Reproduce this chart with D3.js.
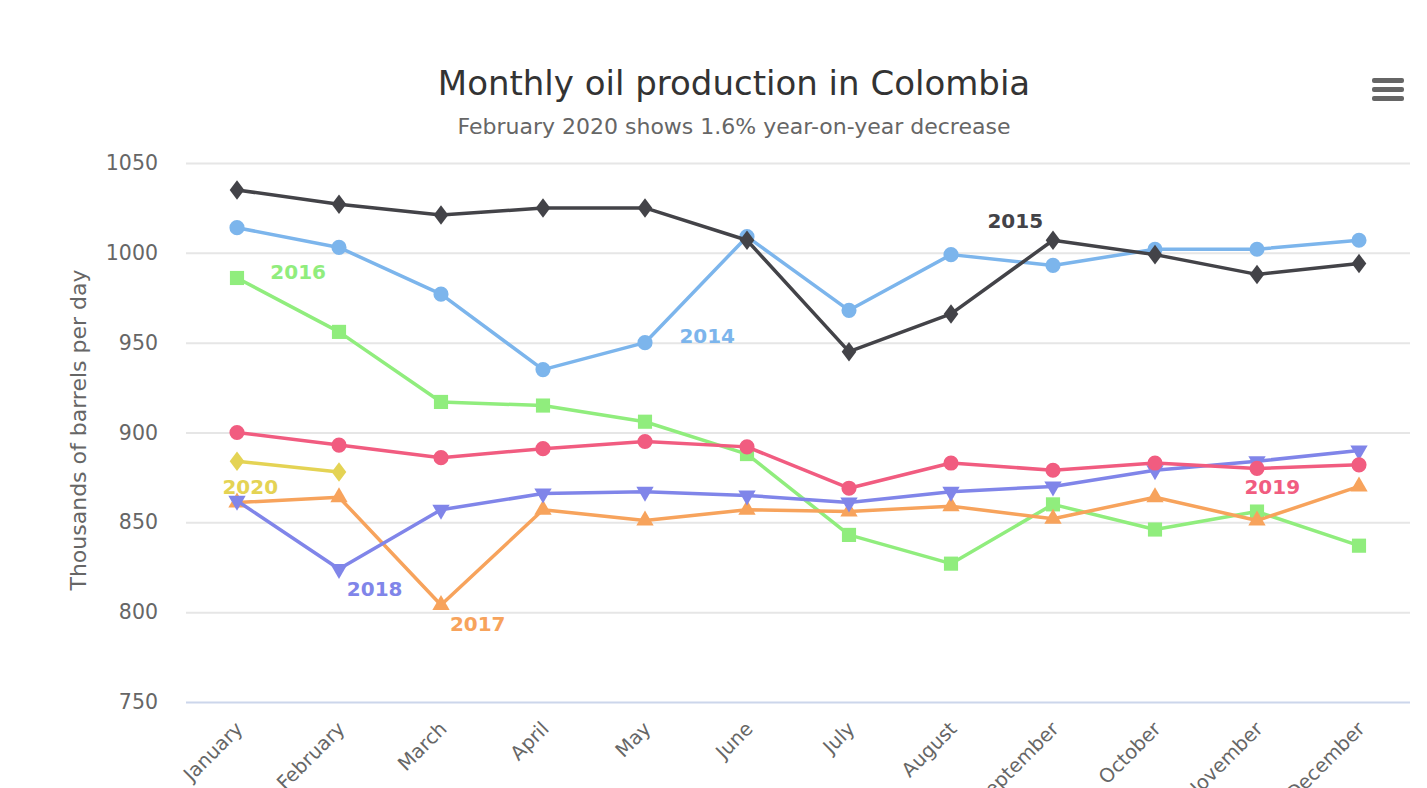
<!DOCTYPE html>
<html>
<head>
<meta charset="utf-8">
<script src="https://cdn.jsdelivr.net/npm/d3@7"></script>
<style>
  html, body { margin: 0; padding: 0; background: #ffffff; }
  svg { display: block; font-family: "DejaVu Sans", sans-serif; }
</style>
</head>
<body>
<svg id="chart" width="1427" height="788"></svg>
<script>
// ---- Data ----
const months = ["January","February","March","April","May","June","July","August","September","October","November","December"];
const yTicks = [750, 800, 850, 900, 950, 1000, 1050];

const y2014 = [1014, 1003, 977, 935, 950, 1009, 968, 999, 993, 1002, 1002, 1007];
const y2015 = [1035, 1027, 1021, 1025, 1025, 1007, 945, 966, 1007, 999, 988, 994];
const y2016 = [986, 956, 917, 915, 906, 888, 843, 827, 860, 846, 856, 837];
const y2017 = [861, 864, 804, 857, 851, 857, 856, 859, 852, 864, 851, 870];
const y2018 = [862, 824, 857, 866, 867, 865, 861, 867, 870, 879, 884, 890];
const y2019 = [900, 893, 886, 891, 895, 892, 869, 883, 879, 883, 880, 882];
const y2020 = [884, 878];

const seriesNames = ["2014","2015","2016","2017","2018","2019","2020"];
const seriesValues = [y2014, y2015, y2016, y2017, y2018, y2019, y2020];
const seriesColors = ["#7cb5ec","#434348","#90ed7d","#f7a35c","#8085e9","#f15c80","#e4d354"];
const seriesSymbols = ["circle","diamond","square","triangle","triangle-down","circle","diamond"];
// series label anchor: [fractional month index, value]
const labelAnchors = [[4.61, 954], [7.63, 1017.7], [0.60, 989.3], [2.36, 793.3], [1.35, 812.8], [10.15, 869.6], [0.13, 869.6]];

const titleText = "Monthly oil production in Colombia";
const subtitleText = "February 2020 shows 1.6% year-on-year decrease";
const yTitle = "Thousands of barrels per day";

// ---- Layout ----
const svg = d3.select("#chart");
const margin = {left: 186, right: 17};
const W = 1427, H = 788;

const x = d3.scaleBand().domain(months).range([margin.left, W - margin.right]);
const xc = i => x(months[0]) + x.bandwidth() * (i + 0.5);
const y = d3.scaleLinear().domain([750, 1050]).range([702, 163]);

// Title & subtitle
svg.append("text").attr("x", 734).attr("y", 95).attr("text-anchor", "middle")
  .attr("fill", "#333333").style("font-size", "34px").text(titleText);
svg.append("text").attr("x", 734).attr("y", 134).attr("text-anchor", "middle")
  .attr("fill", "#666666").style("font-size", "22px").text(subtitleText);

// Menu icon
const menu = svg.append("g").attr("transform", "translate(1372,78)");
[0, 9, 18].forEach(dy => menu.append("rect").attr("x", 0).attr("y", dy).attr("width", 32).attr("height", 5).attr("rx", 2).attr("fill", "#666666"));

// Gridlines
const yAxis = d3.axisLeft(y).tickValues(yTicks).tickSize(-(W - margin.left - margin.right)).tickPadding(28).tickFormat(d3.format("d"));
const gy = svg.append("g").attr("transform", `translate(${margin.left},0)`).call(yAxis);
gy.select(".domain").remove();
gy.selectAll(".tick line").attr("stroke", "#e6e6e6").attr("stroke-width", 2);
gy.selectAll(".tick text").attr("fill", "#666666").style("font-size", "20.5px").style("font-family", "DejaVu Sans, sans-serif");
gy.selectAll(".tick").filter(d => d === 750).select("line").attr("stroke", "#ccd6eb");

// X axis labels
const xAxis = d3.axisBottom(x).tickSize(0).tickPadding(0);
const gx = svg.append("g").attr("transform", `translate(0,702)`).call(xAxis);
gx.select(".domain").remove();
gx.selectAll(".tick text")
  .attr("fill", "#666666").style("font-size", "19.5px").style("font-family", "DejaVu Sans, sans-serif")
  .attr("text-anchor", "end").attr("dy", null).attr("y", 0)
  .attr("transform", "translate(7,28) rotate(-45)");

// Y axis title
svg.append("text").attr("transform", "translate(86,430) rotate(-90)").attr("text-anchor", "middle")
  .attr("fill", "#666666").style("font-size", "22px").text(yTitle);

// Series
const line = d3.line().x((d, i) => xc(i)).y(d => y(d));
const symMap = {
  "circle": d3.symbolCircle, "diamond": d3.symbolDiamond, "square": d3.symbolSquare,
  "triangle": d3.symbolTriangle, "triangle-down": d3.symbolTriangle
};
const symSize = {"circle": 180, "diamond": 110, "square": 200, "triangle": 130, "triangle-down": 130};

seriesNames.forEach((name, si) => {
  const vals = seriesValues[si];
  const g = svg.append("g");
  g.append("path").datum(vals).attr("d", line).attr("fill", "none")
    .attr("stroke", seriesColors[si]).attr("stroke-width", 3.5).attr("stroke-linejoin", "round").attr("stroke-linecap", "round");
  const sym = seriesSymbols[si];
  g.selectAll("path.m").data(vals).join("path").attr("class", "m")
    .attr("d", d3.symbol().type(symMap[sym]).size(symSize[sym]))
    .attr("transform", (d, i) => `translate(${xc(i)},${y(d)})` + (sym === "triangle-down" ? " rotate(180)" : "") + (sym === "diamond" ? " scale(1.3,1)" : ""))
    .attr("fill", seriesColors[si]);
});

// Series labels
seriesNames.forEach((name, si) => {
  const a = labelAnchors[si];
  svg.append("text").attr("x", xc(a[0])).attr("y", y(a[1])).attr("dy", "0.36em")
    .attr("text-anchor", "middle").attr("fill", seriesColors[si])
    .style("font-size", "20px").style("font-weight", "bold").text(name);
});
</script>
</body>
</html>
